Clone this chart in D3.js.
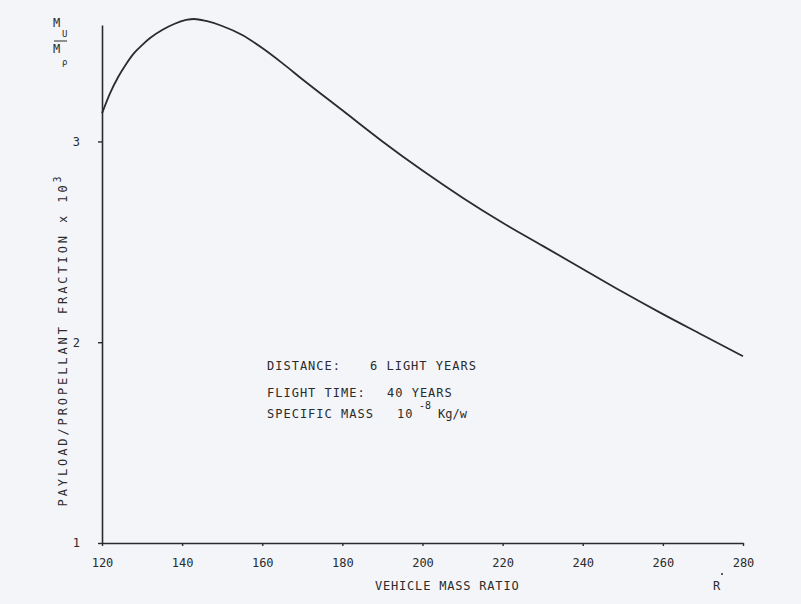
<!DOCTYPE html>
<html>
<head>
<script src="https://d3js.org/d3.v7.min.js" charset="utf-8"></script>
<style>
    body { margin: 0; background: #f3f5f9; }
    svg { display: block; }
    text { font-family: "DejaVu Sans Mono", "Liberation Mono", monospace; fill: #2b2b2b; }
</style>
</head>
<body>
<script>
    // vehicle mass ratio R
    var ratio = [120, 122, 124, 126, 128, 130, 132, 135, 138, 141, 143, 146, 150, 155, 160, 165, 170,
                 180, 190, 200, 210, 220, 230, 240, 250, 260, 270, 280];
    // payload / propellant fraction x 10^3
    var fraction = [3.14, 3.24, 3.32, 3.385, 3.44, 3.48, 3.515, 3.555, 3.585, 3.605, 3.61, 3.60, 3.575, 3.53, 3.465, 3.39, 3.31,
                    3.155, 3.00, 2.855, 2.72, 2.595, 2.48, 2.365, 2.25, 2.14, 2.035, 1.93];

    var xTicks = [120, 140, 160, 180, 200, 220, 240, 260, 280];
    var yTicks = [1, 2, 3];

    var notes = [
        ["DISTANCE:", "6 LIGHT YEARS"],
        ["FLIGHT TIME:", "40 YEARS"],
        ["SPECIFIC MASS", "10"]
    ];

    var w = 801;
    var h = 604;

    var svg = d3.select("body")
                .append("svg")
                .attr("width", w)
                .attr("height", h);

    var x = d3.scaleLinear().domain([120, 280]).range([102, 743]);
    var y = d3.scaleLinear().domain([1, 3.58]).range([543, 25]);

    // x axis
    var xAxis = svg.append("g")
        .attr("transform", "translate(0,543)")
        .call(d3.axisBottom(x).tickValues(xTicks).tickSizeInner(3).tickSizeOuter(0).tickPadding(12));
    // y axis
    var yAxis = svg.append("g")
        .attr("transform", "translate(102,0)")
        .call(d3.axisLeft(y).tickValues(yTicks).tickFormat(d3.format("d"))
              .tickSizeInner(4).tickSizeOuter(0).tickPadding(18));

    [xAxis, yAxis].forEach(function(a) {
        a.select(".domain").attr("stroke", "#2b2b2b").attr("stroke-width", 1.6);
        a.selectAll(".tick line").attr("stroke", "#2b2b2b").attr("stroke-width", 1.4);
        a.selectAll(".tick text").attr("font-size", 12).attr("fill", "#2b2b2b")
            .style("font-family", "DejaVu Sans Mono");
    });

    // curve
    var line = d3.line()
        .x(function(d, i) { return x(ratio[i]); })
        .y(function(d) { return y(d); })
        .curve(d3.curveMonotoneX);

    svg.append("path")
        .datum(fraction)
        .attr("d", line)
        .attr("fill", "none")
        .attr("stroke", "#2b2b2b")
        .attr("stroke-width", 1.8);

    // axis titles
    svg.append("text")
        .attr("x", 375).attr("y", 590)
        .attr("font-size", 12).attr("letter-spacing", 0.8)
        .text("VEHICLE MASS RATIO");
    svg.append("text")
        .attr("x", 713).attr("y", 590)
        .attr("font-size", 12)
        .text("R");
    svg.append("circle").attr("cx", 722).attr("cy", 574).attr("r", 1).attr("fill", "#2b2b2b");

    var yt = svg.append("text")
        .attr("transform", "translate(67,340) rotate(-90)")
        .attr("text-anchor", "middle")
        .attr("font-size", 12).attr("letter-spacing", 2.9);
    yt.append("tspan").text("PAYLOAD/PROPELLANT FRACTION x 10");
    yt.append("tspan").attr("dy", -6).attr("font-size", 10).text("3");

    // M_u / M_p label
    svg.append("text").attr("x", 53).attr("y", 27).attr("font-size", 12).text("M");
    svg.append("text").attr("x", 62).attr("y", 37).attr("font-size", 9).text("U");
    svg.append("line").attr("x1", 54).attr("x2", 67).attr("y1", 41).attr("y2", 41)
        .attr("stroke", "#2b2b2b").attr("stroke-width", 1);
    svg.append("text").attr("x", 53).attr("y", 53).attr("font-size", 12).text("M");
    svg.append("text").attr("x", 62).attr("y", 65).attr("font-size", 9).text("\u03c1");

    // annotation
    var noteY = [370, 397, 418];
    var noteX2 = [370, 387, 397];
    notes.forEach(function(n, i) {
        svg.append("text").attr("x", 267).attr("y", noteY[i])
            .attr("font-size", 12).attr("letter-spacing", 1).text(n[0]);
        svg.append("text").attr("x", noteX2[i]).attr("y", noteY[i])
            .attr("font-size", 12).attr("letter-spacing", 1).text(n[1]);
    });
    svg.append("text").attr("x", 419).attr("y", 409).attr("font-size", 10).text("-8");
    svg.append("text").attr("x", 438).attr("y", 418).attr("font-size", 12).text("Kg/w");
</script>
</body>
</html>
